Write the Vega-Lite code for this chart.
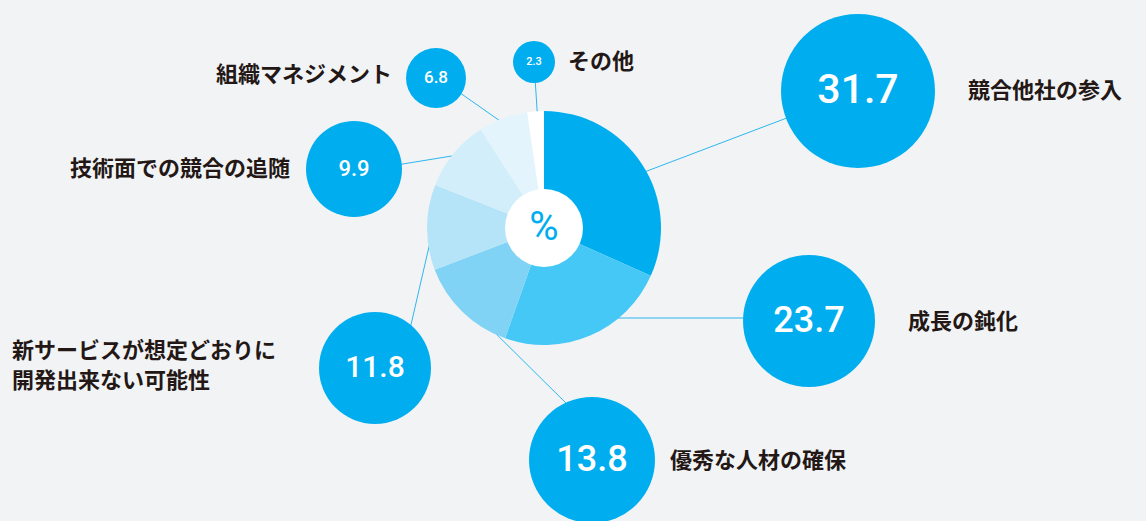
{
  "$schema": "https://vega.github.io/schema/vega-lite/v6.json",
  "width": 1088,
  "height": 456,
  "autosize": {"type": "none"},
  "padding": {"left": 0, "top": 0, "right": 58, "bottom": 65},
  "background": "#F2F3F5",
  "config": {"view": {"stroke": null}},
  "datasets": {
    "items": [
      {"item": "競合他社の参入", "value": 31.7, "order": 1, "bx": 858, "by": 91, "ax": 560, "ay": 204, "ex": 858, "ey": 91},
      {"item": "成長の鈍化", "value": 23.7, "order": 2, "bx": 809, "by": 321, "ax": 560, "ay": 318, "ex": 809, "ey": 318},
      {"item": "優秀な人材の確保", "value": 13.8, "order": 3, "bx": 592, "by": 460, "ax": 470, "ay": 308, "ex": 575, "ey": 412},
      {"item": "新サービスが想定どおりに開発出来ない可能性", "value": 11.8, "order": 4, "bx": 375, "by": 368, "ax": 440, "ay": 199, "ex": 404, "ey": 355},
      {"item": "技術面での競合の追随", "value": 9.9, "order": 5, "bx": 354, "by": 169, "ax": 470, "ay": 153, "ex": 354, "ey": 172},
      {"item": "組織マネジメント", "value": 6.8, "order": 6, "bx": 436, "by": 78, "ax": 520, "ay": 135, "ex": 436, "ey": 76},
      {"item": "その他", "value": 2.3, "order": 7, "bx": 534, "by": 62, "ax": 539, "ay": 140, "ex": 534, "ey": 62}
    ],
    "labels": [
      {"text": "競合他社の参入", "lx": 968, "ly": 91, "side": "left"},
      {"text": "成長の鈍化", "lx": 908, "ly": 322, "side": "left"},
      {"text": "優秀な人材の確保", "lx": 670, "ly": 461, "side": "left"},
      {"text": "新サービスが想定どおりに\n開発出来ない可能性", "lx": 12, "ly": 351, "side": "left"},
      {"text": "技術面での競合の追随", "lx": 290, "ly": 169, "side": "right"},
      {"text": "組織マネジメント", "lx": 392, "ly": 75, "side": "right"},
      {"text": "その他", "lx": 568, "ly": 62, "side": "left"}
    ]
  },
  "data": {"name": "items"},
  "layer": [
    {
      "mark": {"type": "rule", "color": "#2CB7EE", "strokeWidth": 1},
      "encoding": {
        "x": {"field": "ax", "type": "quantitative", "axis": null, "scale": {"domain": [0, 1088], "nice": false, "zero": false}},
        "y": {"field": "ay", "type": "quantitative", "axis": null, "scale": {"domain": [0, 456], "reverse": true, "nice": false, "zero": false}},
        "x2": {"field": "ex"},
        "y2": {"field": "ey"}
      }
    },
    {
      "mark": {"type": "arc", "outerRadius": 117},
      "encoding": {
        "theta": {"field": "value", "type": "quantitative", "stack": true},
        "order": {"field": "order", "type": "quantitative"},
        "color": {
          "field": "item",
          "type": "nominal",
          "legend": null,
          "scale": {
            "domain": ["競合他社の参入", "成長の鈍化", "優秀な人材の確保", "新サービスが想定どおりに開発出来ない可能性", "技術面での競合の追随", "組織マネジメント", "その他"],
            "range": ["#00AEEF", "#45C8F5", "#80D3F5", "#B5E4F9", "#D3EEFB", "#E3F4FC", "#FFFFFF"]
          }
        }
      }
    },
    {
      "transform": [{"filter": "datum.order == 1"}],
      "mark": {"type": "point", "filled": true, "shape": "circle", "color": "#FFFFFF", "opacity": 1, "size": 6084},
      "encoding": {}
    },
    {
      "transform": [{"filter": "datum.order == 1"}],
      "mark": {"type": "text", "text": "%", "font": "Roboto", "fontSize": 40, "color": "#00AEEF", "baseline": "middle", "align": "center"},
      "encoding": {}
    },
    {
      "mark": {"type": "point", "filled": true, "shape": "circle", "color": "#00AEEF", "opacity": 1},
      "encoding": {
        "x": {"field": "bx", "type": "quantitative", "axis": null, "scale": {"domain": [0, 1088], "nice": false, "zero": false}},
        "y": {"field": "by", "type": "quantitative", "axis": null, "scale": {"domain": [0, 456], "reverse": true, "nice": false, "zero": false}},
        "size": {
          "field": "value",
          "type": "quantitative",
          "legend": null,
          "scale": {"zero": false, "domain": [2.3, 6.8, 9.9, 11.8, 13.8, 23.7, 31.7], "range": [1764, 3600, 9216, 12544, 15876, 17424, 23716]}
        }
      }
    },
    {
      "mark": {"type": "text", "font": "Roboto", "fontWeight": 500, "color": "#FFFFFF", "baseline": "middle", "align": "center"},
      "encoding": {
        "x": {"field": "bx", "type": "quantitative", "axis": null, "scale": {"domain": [0, 1088], "nice": false, "zero": false}},
        "y": {"field": "by", "type": "quantitative", "axis": null, "scale": {"domain": [0, 456], "reverse": true, "nice": false, "zero": false}},
        "text": {"field": "value", "type": "quantitative", "format": ".1f"},
        "size": {
          "field": "value",
          "type": "quantitative",
          "legend": null,
          "scale": {"zero": false, "domain": [2.3, 6.8, 9.9, 11.8, 13.8, 23.7, 31.7], "range": [11, 17, 22, 30, 36, 36, 41]}
        }
      }
    },
    {
      "data": {"name": "labels"},
      "transform": [{"filter": "datum.side == 'left'"}],
      "mark": {"type": "text", "font": "Noto Sans CJK JP", "fontWeight": "bold", "fontSize": 22, "color": "#231815", "align": "left", "baseline": "middle", "lineBreak": "\n", "lineHeight": 30},
      "encoding": {
        "x": {"field": "lx", "type": "quantitative", "axis": null, "scale": {"domain": [0, 1088], "nice": false, "zero": false}},
        "y": {"field": "ly", "type": "quantitative", "axis": null, "scale": {"domain": [0, 456], "reverse": true, "nice": false, "zero": false}},
        "text": {"field": "text", "type": "nominal"}
      }
    },
    {
      "data": {"name": "labels"},
      "transform": [{"filter": "datum.side == 'right'"}],
      "mark": {"type": "text", "font": "Noto Sans CJK JP", "fontWeight": "bold", "fontSize": 22, "color": "#231815", "align": "right", "baseline": "middle"},
      "encoding": {
        "x": {"field": "lx", "type": "quantitative", "axis": null, "scale": {"domain": [0, 1088], "nice": false, "zero": false}},
        "y": {"field": "ly", "type": "quantitative", "axis": null, "scale": {"domain": [0, 456], "reverse": true, "nice": false, "zero": false}},
        "text": {"field": "text", "type": "nominal"}
      }
    }
  ],
  "resolve": {"scale": {"size": "independent"}}
}
